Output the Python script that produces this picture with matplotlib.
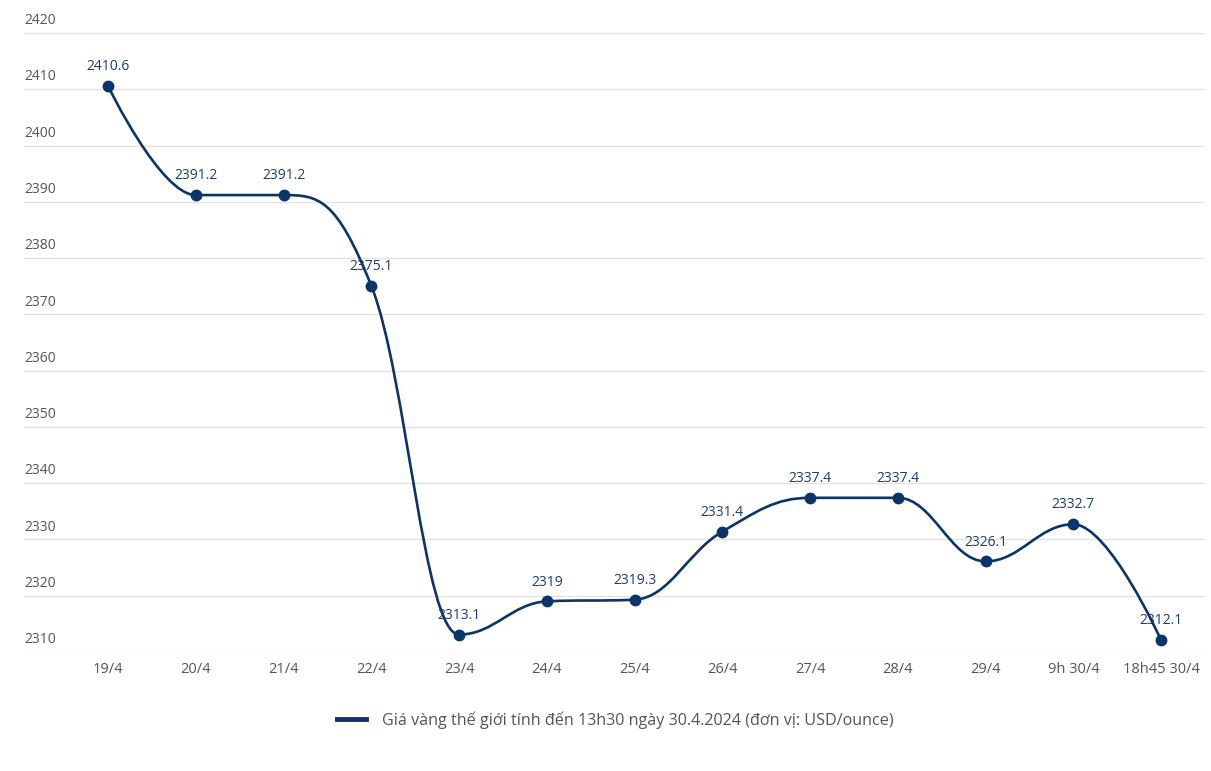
import numpy as np
import matplotlib
matplotlib.use("Agg")
import matplotlib.pyplot as plt
from matplotlib.path import Path
from matplotlib.patches import PathPatch
from matplotlib.lines import Line2D
import matplotlib.transforms as mtransforms

labels = ["19/4", "20/4", "21/4", "22/4", "23/4", "24/4", "25/4", "26/4",
          "27/4", "28/4", "29/4", "9h 30/4", "18h45 30/4"]
prices = [2410.6, 2391.2, 2391.2, 2375.1, 2313.1, 2319, 2319.3, 2331.4,
          2337.4, 2337.4, 2326.1, 2332.7, 2312.1]
yticks = [2310, 2320, 2330, 2340, 2350, 2360, 2370, 2380, 2390, 2400, 2410, 2420]
series_name = "Giá vàng thế giới tính đến 13h30 ngày 30.4.2024 (đơn vị: USD/ounce)"

navy = "#0b3469"
plt.rcParams["font.family"] = ["Open Sans", "DejaVu Sans"]


def spline_path(xs, ys, smoothing=1.5):
    # same control point rule as a highcharts spline
    n = len(xs)
    denom = smoothing + 1
    right = [None] * n
    verts = [(xs[0], ys[0])]
    codes = [Path.MOVETO]
    for i in range(1, n):
        px, py = xs[i], ys[i]
        lx, ly = xs[i - 1], ys[i - 1]
        lcx, lcy = px, py
        if i < n - 1:
            nx, ny = xs[i + 1], ys[i + 1]
            lcx = (smoothing * px + lx) / denom
            lcy = (smoothing * py + ly) / denom
            rcx = (smoothing * px + nx) / denom
            rcy = (smoothing * py + ny) / denom
            corr = 0
            if rcx != lcx:
                corr = (rcy - lcy) * (rcx - px) / (rcx - lcx) + py - rcy
            lcy += corr
            rcy += corr
            if lcy > ly and lcy > py:
                lcy = max(ly, py)
                rcy = 2 * py - lcy
            elif lcy < ly and lcy < py:
                lcy = min(ly, py)
                rcy = 2 * py - lcy
            if rcy > ny and rcy > py:
                rcy = max(ny, py)
                lcy = 2 * py - rcy
            elif rcy < ny and rcy < py:
                rcy = min(ny, py)
                lcy = 2 * py - rcy
            right[i] = (rcx, rcy)
        c1 = right[i - 1] if right[i - 1] is not None else (lx, ly)
        verts += [c1, (lcx, lcy), (px, py)]
        codes += [Path.CURVE4] * 3
    return Path(verts, codes)


fig = plt.figure(figsize=(12.11, 7.71), dpi=100)
ax = fig.add_axes([24 / 1211, 1 - 652 / 771, (1205 - 24) / 1211, (652 - 33) / 771])

x = np.arange(len(labels))
ax.set_xlim(-0.957, len(labels) - 1 + 0.5)
ax.set_ylim(2310, 2420)

ax.add_patch(PathPatch(spline_path(list(x), prices), fill=False,
                       edgecolor=navy, lw=1.9, zorder=3))
ax.plot(x, prices, "o", color=navy, ms=7.5, zorder=4)

for xi, v in zip(x, prices):
    txt = f"{v:g}"
    ax.annotate(txt, (xi, v), xytext=(0, 8.5), textcoords="offset points",
                ha="center", va="bottom", fontsize=10, color="#1e3c6b", zorder=5)

ax.set_yticks(yticks)
ax.set_yticklabels([])
ax.grid(axis="y", color="#e3e3e3", lw=1)
ax.tick_params(axis="y", length=0)
trans = mtransforms.blended_transform_factory(ax.transAxes, ax.transData)
for t in yticks:
    ax.text(0.0, t, str(t), transform=trans + mtransforms.ScaledTranslation(0, 3.5 / 72, fig.dpi_scale_trans),
            ha="left", va="bottom", fontsize=10, color="#555555")

ax.set_xticks(x)
ax.set_xticklabels(labels, fontsize=10.5, color="#555555")
ax.tick_params(axis="x", length=0, pad=7.5)
for s in ax.spines.values():
    s.set_visible(False)
ax.set_axisbelow(True)

handle = Line2D([], [], color=navy, lw=3.5)
fig.legend([handle], [series_name], loc="center", bbox_to_anchor=(0.508, 1 - 720 / 771),
           frameon=False, fontsize=11.6, labelcolor="#555555", handlelength=1.8, handletextpad=1.0)

fig.savefig("out.png", dpi=100)
